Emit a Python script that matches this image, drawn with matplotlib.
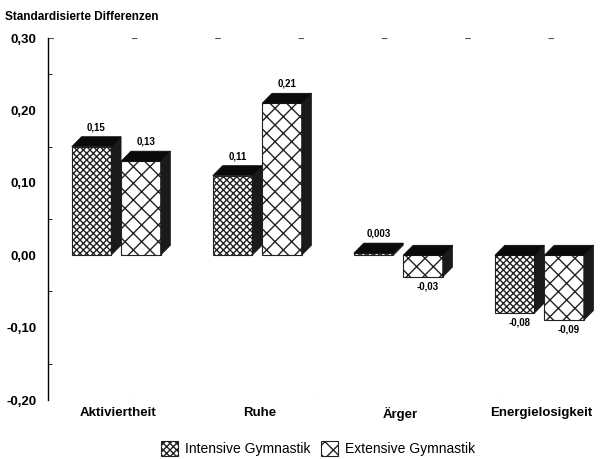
import matplotlib
matplotlib.use("Agg")
import matplotlib.pyplot as plt
from matplotlib.patches import Polygon, Rectangle, Patch

plt.rcParams['font.family'] = ['Liberation Sans', 'DejaVu Sans']
plt.rcParams['hatch.linewidth'] = 1.0

categories = ["Aktiviertheit", "Ruhe", "Ärger", "Energielosigkeit"]
intensive = [0.15, 0.11, 0.003, -0.08]
extensive = [0.13, 0.21, -0.03, -0.09]
intensive_labels = ["0,15", "0,11", "0,003", "-0,08"]
extensive_labels = ["0,13", "0,21", "-0,03", "-0,09"]
yticks = [-0.20, -0.10, 0.00, 0.10, 0.20, 0.30]
ytick_labels = ["-0,20", "-0,10", "0,00", "0,10", "0,20", "0,30"]
series_names = ["Intensive Gymnastik", "Extensive Gymnastik"]

fig = plt.figure(figsize=(6.12, 4.59), dpi=100)
ax = fig.add_axes([0.078, 0.1285, 0.922, 0.7885])
ax.set_xlim(-0.5, 3.5)
ax.set_ylim(-0.20, 0.30)

W = 0.28
DX = 0.07
DY = 0.0138


def bar3d(x0, v, hatch, label):
    lo, hi = min(0, v), max(0, v)
    ax.add_patch(Rectangle((x0, lo), W, hi - lo, facecolor='white',
                           edgecolor='#222222', hatch=hatch, linewidth=0.8, zorder=2))
    # side
    ax.add_patch(Polygon([(x0 + W, lo), (x0 + W + DX, lo + DY), (x0 + W + DX, hi + DY),
                          (x0 + W, hi)], closed=True, facecolor='#1a1a1a',
                         edgecolor='#1a1a1a', linewidth=0.5, zorder=2))
    # top
    ax.add_patch(Polygon([(x0, hi), (x0 + DX, hi + DY), (x0 + W + DX, hi + DY),
                          (x0 + W, hi)], closed=True, facecolor='#0a0a0a',
                         edgecolor='#0a0a0a', linewidth=0.5, zorder=3))
    xc = x0 + W / 2 + DX / 2
    if v >= 0:
        ax.text(xc, hi + DY + 0.006, label, ha='center', va='bottom',
                fontsize=7, fontweight='bold', zorder=4)
    else:
        ax.text(xc, lo - 0.006, label, ha='center', va='top',
                fontsize=7, fontweight='bold', zorder=4)


for i in range(len(categories)):
    bar3d(i - 0.33, intensive[i], 'xxxxx', intensive_labels[i])
    bar3d(i + 0.02, extensive[i], 'xx', extensive_labels[i])

# faint broken gridlines
ax.axhline(0.30, color='#555555', lw=0.8, ls=(0, (5, 70)), zorder=1)
ax.axhline(-0.20, color='#555555', lw=0.8, ls=(10, (3, 80)), zorder=1)

ax.set_yticks(yticks)
ax.set_yticklabels(ytick_labels, fontsize=9.5, fontweight='bold')
ax.set_yticks([-0.15, -0.05, 0.05, 0.15, 0.25], minor=True)
ax.tick_params(axis='y', which='major', length=0, pad=8)
ax.tick_params(axis='y', which='minor', length=3, direction='in')
ax.set_xticks(range(len(categories)))
ax.set_xticklabels(categories, fontsize=9.5, fontweight='bold')
ax.tick_params(axis='x', length=0, pad=5)
for s in ['top', 'right', 'bottom']:
    ax.spines[s].set_visible(False)
ax.spines['left'].set_linewidth(1.0)

fig.text(0.008, 0.962, "Standardisierte Differenzen", fontsize=8.5,
         fontweight='bold', ha='left', va='center')

handles = [Patch(facecolor='white', edgecolor='#222222', hatch='xxxxx', linewidth=0.8),
           Patch(facecolor='white', edgecolor='#222222', hatch='xx', linewidth=0.8)]
fig.legend(handles, series_names, loc='center', bbox_to_anchor=(0.52, 0.022),
           ncol=2, frameon=False, fontsize=10, handlelength=1.2, handleheight=1.2,
           columnspacing=0.8, handletextpad=0.5)

fig.savefig("out.png", dpi=100)
